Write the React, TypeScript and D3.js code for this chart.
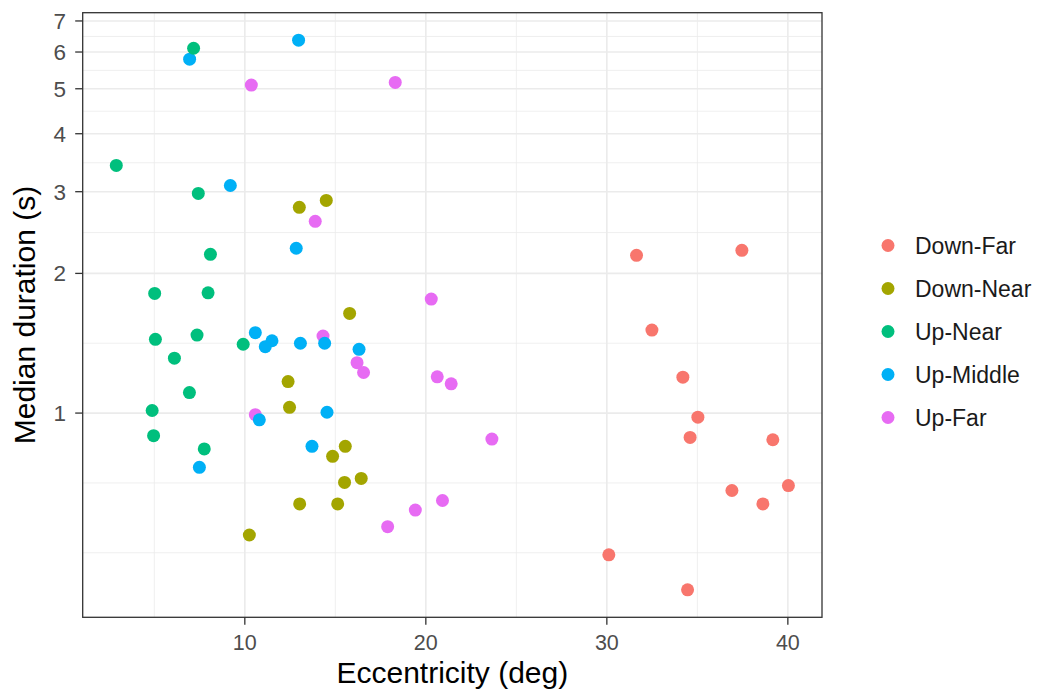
import React from "react";
import * as d3 from "d3";

// groups, in legend order, with ggplot's default hue palette
const groups = ["Down-Far", "Down-Near", "Up-Near", "Up-Middle", "Up-Far"];
const groupColors = ["#F8766D", "#A3A500", "#00BF7D", "#00B0F6", "#E76BF3"];

// eccentricity (deg) and median duration (s) per group
const downFarX = [31.64, 37.46, 32.49, 34.2, 35.03, 34.6, 39.17, 36.91, 40.03, 38.62, 30.11, 34.46];
const downFarY = [2.188, 2.243, 1.51, 1.195, 0.98, 0.886, 0.876, 0.681, 0.698, 0.637, 0.495, 0.416];

const downNearX = [13.01, 14.5, 15.79, 12.39, 12.47, 15.55, 14.85, 16.43, 15.51, 13.03, 15.13, 10.25];
const downNearY = [2.776, 2.873, 1.64, 1.169, 1.029, 0.848, 0.807, 0.723, 0.709, 0.637, 0.637, 0.546];

const upNearX = [2.9, 7.17, 7.43, 8.1, 5.02, 7.97, 5.06, 7.36, 6.11, 9.91, 6.94, 4.88, 4.96, 7.76];
const upNearY = [3.417, 6.114, 2.975, 2.199, 1.811, 1.816, 1.442, 1.473, 1.313, 1.407, 1.107, 1.013, 0.894, 0.837];

const upMiddleX = [6.95, 12.97, 9.2, 12.84, 10.58, 11.5, 11.13, 13.07, 14.41, 16.31, 10.8, 14.54, 13.71, 7.49];
const upMiddleY = [5.79, 6.363, 3.094, 2.266, 1.49, 1.432, 1.39, 1.414, 1.414, 1.372, 0.967, 1.004, 0.848, 0.764];

const upFarX = [10.36, 18.31, 13.89, 20.3, 14.32, 16.2, 16.56, 20.63, 21.4, 10.58, 23.65, 20.92, 19.42, 17.89];
const upFarY = [5.092, 5.159, 2.59, 1.761, 1.466, 1.284, 1.223, 1.197, 1.156, 0.992, 0.879, 0.648, 0.618, 0.569];

const groupX = [downFarX, downNearX, upNearX, upMiddleX, upFarX];
const groupY = [downFarY, downNearY, upNearY, upMiddleY, upFarY];

// axis breaks
const xTicks = [10, 20, 30, 40];
const xMinor = [5, 15, 25, 35];
const yTicks = [1, 2, 3, 4, 5, 6, 7];

const width = 1039;
const height = 694;
const panel = { left: 82.7, right: 822, top: 12.7, bottom: 617.3 };
const font = "'Liberation Sans', Arial, Helvetica, sans-serif";

// draw pink first, then blue, then green so overlaps stack like the original
const drawOrder = [0, 1, 4, 3, 2];

export default function App() {
  const allX = groupX.flat();
  const allY = groupY.flat();

  const [x0, x1] = d3.extent(allX) as [number, number];
  const xPad = (x1 - x0) * 0.05;
  const x = d3.scaleLinear().domain([x0 - xPad, x1 + xPad]).range([panel.left, panel.right]);

  const [ly0, ly1] = (d3.extent(allY) as [number, number]).map(Math.log10);
  const yPad = (ly1 - ly0) * 0.05;
  const y = d3
    .scaleLog()
    .domain([10 ** (ly0 - yPad), 10 ** (ly1 + yPad)])
    .range([panel.bottom, panel.top]);

  // minor breaks like ggplot: halfway (in log space) between majors, extended one step below
  const ext = [yTicks[0] / (yTicks[1] / yTicks[0]), ...yTicks];
  const yMinor: number[] = [];
  for (let i = 0; i < ext.length - 1; i++) {
    yMinor.push(ext[i], Math.sqrt(ext[i] * ext[i + 1]));
  }
  const [yLo, yHi] = y.domain();
  const yMinorIn = yMinor.filter((v) => v >= yLo && v <= yHi && !yTicks.includes(v));

  const grid = "#EBEBEB";

  return (
    <svg
      width={width}
      height={height}
      style={{ position: "absolute", left: 0, top: 0, background: "#fff" }}
      fontFamily={font}
    >
      <rect width={width} height={height} fill="#fff" />

      {/* minor grid */}
      {yMinorIn.map((v) => (
        <line key={"ym" + v} x1={panel.left} x2={panel.right} y1={y(v)} y2={y(v)} stroke={grid} strokeWidth={0.8} />
      ))}
      {xMinor.map((v) => (
        <line key={"xm" + v} x1={x(v)} x2={x(v)} y1={panel.top} y2={panel.bottom} stroke={grid} strokeWidth={0.8} />
      ))}

      {/* major grid */}
      {yTicks.map((v) => (
        <line key={"yg" + v} x1={panel.left} x2={panel.right} y1={y(v)} y2={y(v)} stroke={grid} strokeWidth={1.6} />
      ))}
      {xTicks.map((v) => (
        <line key={"xg" + v} x1={x(v)} x2={x(v)} y1={panel.top} y2={panel.bottom} stroke={grid} strokeWidth={1.6} />
      ))}

      {/* points */}
      {drawOrder.map((g) => (
        <g key={groups[g]} fill={groupColors[g]}>
          {groupX[g].map((xv, i) => (
            <circle key={i} cx={x(xv)} cy={y(groupY[g][i])} r={6.5} />
          ))}
        </g>
      ))}

      {/* panel border */}
      <rect
        x={panel.left}
        y={panel.top}
        width={panel.right - panel.left}
        height={panel.bottom - panel.top}
        fill="none"
        stroke="#333333"
        strokeWidth={1.3}
      />

      {/* x axis */}
      {xTicks.map((v) => (
        <g key={"xt" + v}>
          <line x1={x(v)} x2={x(v)} y1={panel.bottom} y2={panel.bottom + 7.5} stroke="#333333" strokeWidth={1.3} />
          <text x={x(v)} y={650} textAnchor="middle" fontSize={21.5} fill="#4D4D4D">
            {v}
          </text>
        </g>
      ))}
      <text x={(panel.left + panel.right) / 2} y={683} textAnchor="middle" fontSize={30} fill="#000">
        Eccentricity (deg)
      </text>

      {/* y axis */}
      {yTicks.map((v) => (
        <g key={"yt" + v}>
          <line x1={panel.left - 7.5} x2={panel.left} y1={y(v)} y2={y(v)} stroke="#333333" strokeWidth={1.3} />
          <text x={66} y={y(v) + 8} textAnchor="end" fontSize={22.5} fill="#4D4D4D">
            {v}
          </text>
        </g>
      ))}
      <text
        transform={`translate(35,${(panel.top + panel.bottom) / 2}) rotate(-90)`}
        textAnchor="middle"
        fontSize={30}
        fill="#000"
      >
        Median duration (s)
      </text>

      {/* legend */}
      {groups.map((name, i) => (
        <g key={"lg" + name} transform={`translate(0,${245.5 + i * 43})`}>
          <circle cx={888} cy={0} r={6.5} fill={groupColors[i]} />
          <text x={915} y={8} fontSize={23} fill="#1A1A1A">
            {name}
          </text>
        </g>
      ))}
    </svg>
  );
}
